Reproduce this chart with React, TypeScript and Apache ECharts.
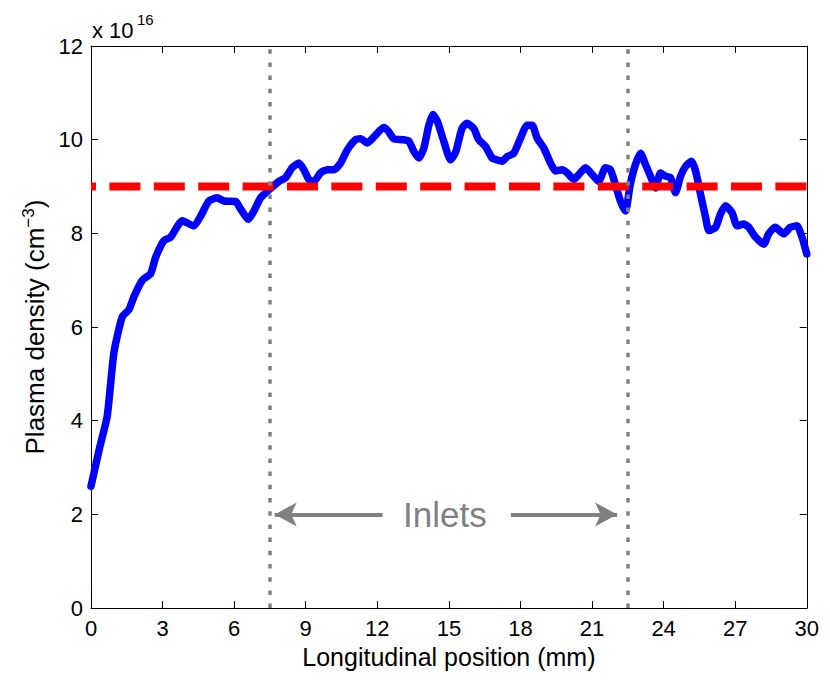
import React, { useEffect, useRef } from "react";
import * as echarts from "echarts";

// Longitudinal position (mm)
const positionsMm = [
  0.0, 0.35, 0.68, 0.96, 1.31, 1.59, 1.8, 2.15, 2.5, 2.71, 3.06, 3.34, 3.83, 4.31, 4.6, 4.94,
  5.29, 5.57, 6.06, 6.27, 6.59, 6.83, 7.11, 7.46, 7.88, 8.16, 8.43, 8.71, 8.92, 9.13, 9.34,
  9.62, 9.9, 10.18, 10.46, 10.74, 11.09, 11.3, 11.58, 11.93, 12.27, 12.48, 12.69, 13.04,
  13.32, 13.53, 13.74, 13.95, 14.16, 14.33, 14.51, 14.79, 15.07, 15.28, 15.55, 15.76, 16.04,
  16.25, 16.53, 16.81, 17.02, 17.23, 17.44, 17.72, 18.0, 18.28, 18.49, 18.7, 18.98, 19.26,
  19.47, 19.75, 19.96, 20.24, 20.45, 20.73, 21.0, 21.28, 21.56, 21.77, 21.98, 22.19, 22.4,
  22.6, 22.82, 23.03, 23.24, 23.45, 23.66, 23.87, 24.08, 24.29, 24.5, 24.71, 24.92, 25.17,
  25.34, 25.55, 25.76, 25.9, 26.18, 26.38, 26.59, 26.87, 27.08, 27.36, 27.57, 27.85, 28.2,
  28.4, 28.68, 29.03, 29.31, 29.59, 29.8, 30.0,
];

// Plasma density (x 10^16 cm^-3)
const densityE16 = [
  2.6, 3.4, 4.1, 5.45, 6.22, 6.37, 6.65, 7.0, 7.14, 7.49, 7.85, 7.92, 8.27, 8.16, 8.37, 8.69,
  8.76, 8.69, 8.68, 8.52, 8.3, 8.48, 8.76, 8.93, 9.11, 9.19, 9.4, 9.5, 9.36, 9.15, 9.11,
  9.29, 9.36, 9.36, 9.5, 9.78, 10.0, 10.02, 9.93, 10.1, 10.26, 10.17, 10.02, 10.0,
  9.97, 9.75, 9.61, 9.82, 10.31, 10.54, 10.4, 9.96, 9.57, 9.73, 10.24, 10.35, 10.24,
  10.0, 9.86, 9.61, 9.57, 9.54, 9.64, 9.71, 10.03, 10.31, 10.31, 10.03, 9.82, 9.5,
  9.33, 9.36, 9.29, 9.15, 9.26, 9.4, 9.26, 9.11, 9.4, 9.36, 9.04, 8.69, 8.48,
  9.04, 9.47, 9.71, 9.47, 9.22, 8.97, 9.29, 9.22, 9.19, 8.87, 9.22, 9.43, 9.54,
  9.33, 8.83, 8.34, 8.06, 8.13, 8.41, 8.59, 8.44, 8.16, 8.2, 8.13, 7.92, 7.77,
  7.99, 8.13, 7.99, 8.13, 8.16, 7.92, 7.56,
];

const targetDensity = 9;
const inletPositions = [7.5, 22.5];
const inletLabel = "Inlets";
const inletArrowY = 2;
const leftArrow = [12.22, 7.7]; // from, to (mm)
const rightArrow = [17.6, 22.05];
const inletLabelX = 14.83;

const xRange = [0, 30];
const xInterval = 3;
const yRange = [0, 12];
const yInterval = 2;

const FONT = "'Liberation Sans', Arial, Helvetica, sans-serif";

export default function App() {
  const ref = useRef<HTMLDivElement>(null);

  useEffect(() => {
    if (!ref.current) return;
    const chart = echarts.init(ref.current, undefined, { renderer: "svg" });

    const lineData = positionsMm.map((x, i) => [x, densityE16[i]]);
    const gray = "#808080";

    const baseX = {
      type: "value",
      min: xRange[0],
      max: xRange[1],
      interval: xInterval,
      splitLine: { show: false },
      axisLine: { show: true, onZero: false, lineStyle: { color: "#000", width: 1 } },
      axisTick: { show: true, inside: true, length: 7, lineStyle: { color: "#000" } },
    };
    const baseY = {
      type: "value",
      min: yRange[0],
      max: yRange[1],
      interval: yInterval,
      splitLine: { show: false },
      axisLine: { show: true, onZero: false, lineStyle: { color: "#000", width: 1 } },
      axisTick: { show: true, inside: true, length: 7, lineStyle: { color: "#000" } },
    };

    chart.setOption({
      animation: false,
      backgroundColor: "#fff",
      textStyle: { fontFamily: FONT },
      grid: { left: 83, right: 14, top: 38, bottom: 60, containLabel: false },
      xAxis: [
        {
          ...baseX,
          position: "bottom",
          name: "Longitudinal position (mm)",
          nameLocation: "middle",
          nameGap: 34,
          nameTextStyle: { fontSize: 25, color: "#000", fontFamily: FONT },
          axisLabel: { fontSize: 22, color: "#000", margin: 9, fontFamily: FONT },
        },
        {
          ...baseX,
          position: "top",
          axisLabel: { show: false },
        },
      ],
      yAxis: [
        {
          ...baseY,
          position: "left",
          name: "Plasma density (cm{sup|−3})",
          nameLocation: "middle",
          nameGap: 42,
          nameTextStyle: {
            fontSize: 26,
            color: "#000",
            fontFamily: FONT,
            rich: {
              sup: { fontSize: 17, color: "#000", fontFamily: FONT, padding: [0, 0, 12, 0] },
            },
          },
          axisLabel: { fontSize: 22, color: "#000", margin: 8, fontFamily: FONT },
        },
        {
          ...baseY,
          position: "right",
          axisLabel: { show: false },
        },
      ],
      graphic: [
        {
          type: "text",
          left: 84,
          top: 11,
          style: { text: "x 10", fontSize: 22, fontFamily: FONT, fill: "#000" },
        },
        {
          type: "text",
          left: 129,
          top: 4,
          style: { text: "16", fontSize: 15, fontFamily: FONT, fill: "#000" },
        },
      ],
      series: [
        {
          name: "Plasma density",
          type: "line",
          data: lineData,
          showSymbol: false,
          smooth: 0.2,
          lineStyle: { color: "#0000ff", width: 7.5, cap: "round", join: "round" },
          itemStyle: { color: "#0000ff" },
          z: 2,
        },
        {
          name: "Target",
          type: "line",
          data: [
            [xRange[0], targetDensity],
            [xRange[1], targetDensity],
          ],
          showSymbol: false,
          lineStyle: { color: "#ff0000", width: 8, type: [31, 13.4], dashOffset: 26, cap: "butt" },
          itemStyle: { color: "#ff0000" },
          z: 3,
        },
        {
          name: "Inlets",
          type: "line",
          data: [],
          z: 4,
          markLine: {
            silent: true,
            symbol: ["none", "none"],
            label: { show: false },
            lineStyle: { color: gray, width: 3.5, type: [4.5, 8.7] },
            data: inletPositions.map((x) => ({ xAxis: x })),
          },
        },
        {
          name: "Arrows",
          type: "line",
          data: [],
          z: 4,
          markLine: {
            silent: true,
            symbol: ["none", "arrow"],
            symbolSize: [18, 22],
            label: { show: false },
            lineStyle: { color: gray, width: 4, type: "solid" },
            itemStyle: { color: gray },
            data: [
              [{ coord: [leftArrow[0], inletArrowY] }, { coord: [leftArrow[1], inletArrowY] }],
              [{ coord: [rightArrow[0], inletArrowY] }, { coord: [rightArrow[1], inletArrowY] }],
            ],
          },
          markPoint: {
            silent: true,
            symbol: "circle",
            symbolSize: 0,
            label: {
              show: true,
              position: "inside",
              formatter: inletLabel,
              fontSize: 35,
              color: gray,
              fontFamily: FONT,
            },
            data: [{ coord: [inletLabelX, inletArrowY], value: inletLabel }],
          },
        },
      ],
    });

    return () => chart.dispose();
  }, []);

  return <div ref={ref} style={{ width: 814, height: 666 }} />;
}
